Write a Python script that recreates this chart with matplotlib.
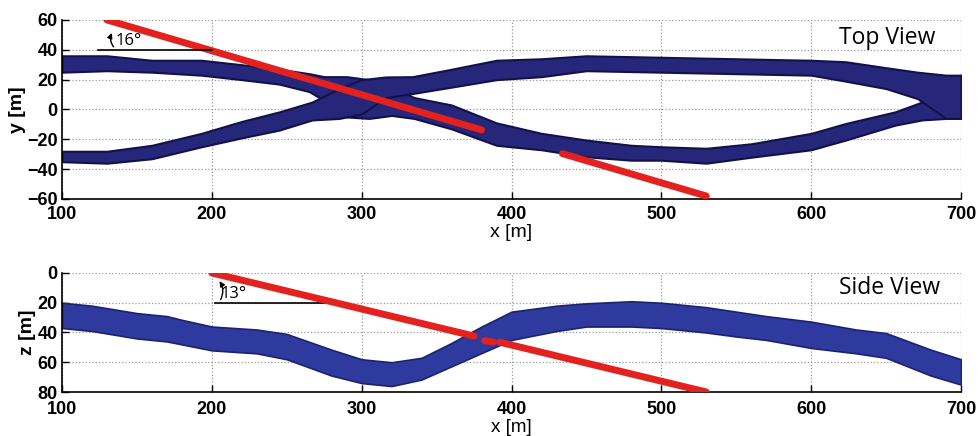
import numpy as np
import matplotlib; matplotlib.use('Agg')
import matplotlib.pyplot as plt

plt.rcParams['font.family'] = ['Liberation Sans', 'DejaVu Sans']

# top view: two branches of the point cloud (x, lower edge, upper edge in y)
a_x  = [100, 130, 160, 193, 220, 245, 265, 275, 290, 305, 320, 335, 360, 390, 420, 450, 480, 500, 530, 560, 600, 623, 656, 674, 690, 700]
a_hi = [36, 36, 33, 33, 30, 27, 24, 22, 22, 20, 15, 8, 3, -9, -16, -20.5, -24, -25, -26, -23, -16, -9.4, -1.6, 5, 20, 23]
a_lo = [25, 26, 25, 23, 20, 17, 12, 6, -5, -6, -4, -6, -13, -24, -27, -31.7, -34, -34, -36, -32, -27, -20.5, -10.5, -7, -6, -6]

b_x  = [100, 130, 160, 193, 220, 245, 267, 285, 300, 316, 334, 360, 390, 420, 450, 500, 550, 600, 623, 650, 671, 690, 700]
b_hi = [-28, -28, -24, -16, -8, -1.6, 5, 14, 20, 21.8, 22, 27, 33, 34, 36, 35, 34, 33, 32, 28, 25, 23, 23]
b_lo = [-35, -36, -33, -25, -19, -13.8, -7, -6, -3, 8, 10.7, 15, 20, 22, 26, 25, 24, 23, 19, 14, 7.3, -6, -6]

# side view band (x, top z, bottom z)
s_x   = [100, 120, 150, 170, 180, 200, 230, 250, 280, 300, 320, 340, 360, 380, 400, 430, 450, 480, 500, 530, 550, 570, 600, 630, 650, 680, 700]
s_top = [20, 22, 27, 29, 31.5, 36, 38, 41, 51.6, 58, 60, 57, 47, 36, 26, 22, 20.4, 19, 20, 23, 26, 29, 32.7, 38, 40.4, 51.6, 58]
s_bot = [37, 39, 44, 46, 48, 52, 54, 58, 69, 74, 76, 71.6, 62.7, 53.8, 45, 39, 36, 36, 37, 40, 42.7, 45, 50.4, 54, 57, 69, 75]

# red trajectory segments (visible parts)
top_seg1 = ([130, 380], [60, -13.7])
top_seg2 = ([434, 530], [-29.6, -58])
side_seg1 = ([200, 375], [0, 42.4])
side_seg2 = ([392, 530], [46.5, 80])
side_blob = ([382, 388], [45.5, 46.5])

xticks = [100, 200, 300, 400, 500, 600, 700]
yticks = [-60, -40, -20, 0, 20, 40, 60]
zticks = [0, 20, 40, 60, 80]

navy_face = '#26267a'
navy_edge = '#12124a'
side_face = '#2f3a9e'
side_edge = '#1c2270'
red = '#e3211f'

fig = plt.figure(figsize=(9.8, 4.36), dpi=100)
ax1 = fig.add_axes([0.0633, 0.5436, 0.9173, 0.4106])
ax2 = fig.add_axes([0.0633, 0.1009, 0.9173, 0.273])

def style(ax, xpad):
    ax.spines['top'].set_visible(False)
    ax.spines['right'].set_visible(False)
    ax.spines['left'].set_linewidth(1.2)
    ax.spines['bottom'].set_linewidth(1.2)
    ax.grid(True, linestyle=':', color='#9a9a9a', linewidth=0.9)
    ax.tick_params(direction='in', length=5, width=1, labelsize=13)
    ax.tick_params(axis='x', pad=xpad)
    ax.tick_params(axis='y', pad=3)
    for lab in ax.get_xticklabels() + ax.get_yticklabels():
        lab.set_fontweight('bold')
    ax.set_axisbelow(True)

# ---- top view
ax1.fill_between(a_x, a_lo, a_hi, facecolor=navy_face, edgecolor=navy_edge, linewidth=1.5, zorder=2)
ax1.fill_between(b_x, b_lo, b_hi, facecolor=navy_face, edgecolor=navy_edge, linewidth=1.5, zorder=2)
for sx, sy in (top_seg1, top_seg2):
    ax1.plot(sx, sy, color=red, linewidth=5, solid_capstyle='round', zorder=3)
ax1.plot([124, 200], [40, 40], color='black', linewidth=1.2, zorder=4)
ax1.annotate('', xy=(134, 53), xytext=(135.5, 40.5),
             arrowprops=dict(arrowstyle='-|>,head_width=0.15,head_length=0.3', color='black',
                             lw=1.0, connectionstyle='arc3,rad=-0.35'), zorder=4)
ax1.text(136, 46, '16°', fontsize=12, va='center', ha='left', family=['Open Sans', 'DejaVu Sans'])
ax1.text(683, 48, 'Top View', fontsize=16.5, ha='right', va='center', family=['Open Sans', 'DejaVu Sans'])
ax1.set_xlim(100, 700)
ax1.set_ylim(-60, 60)
ax1.set_xticks(xticks)
ax1.set_yticks(yticks)
ax1.set_xlabel('x [m]', fontsize=14, labelpad=1)
ax1.set_ylabel('y [m]', fontsize=14, fontweight='bold', labelpad=1)
style(ax1, 5)

# ---- side view
ax2.fill_between(s_x, s_top, s_bot, facecolor=side_face, edgecolor=side_edge, linewidth=1.2, zorder=2)
for sx, sy in (side_seg1, side_seg2, side_blob):
    ax2.plot(sx, sy, color=red, linewidth=5, solid_capstyle='round', zorder=3)
ax2.plot([202, 278], [20, 20], color='black', linewidth=1.2, zorder=2.5)
ax2.annotate('', xy=(204, 4), xytext=(205, 19.5),
             arrowprops=dict(arrowstyle='-|>,head_width=0.15,head_length=0.3', color='black',
                             lw=1.0, connectionstyle='arc3,rad=0.35'), zorder=4)
ax2.text(205.5, 14, '13°', fontsize=12, va='center', ha='left', family=['Open Sans', 'DejaVu Sans'])
ax2.text(686, 10, 'Side View', fontsize=16.5, ha='right', va='center', family=['Open Sans', 'DejaVu Sans'])
ax2.set_xlim(100, 700)
ax2.set_ylim(80, 0)
ax2.set_xticks(xticks)
ax2.set_yticks(zticks)
ax2.set_xlabel('x [m]', fontsize=13.5, labelpad=0.5)
ax2.set_ylabel('z [m]', fontsize=14, fontweight='bold', labelpad=1)
style(ax2, 6.5)

fig.savefig('out.png', dpi=100)
